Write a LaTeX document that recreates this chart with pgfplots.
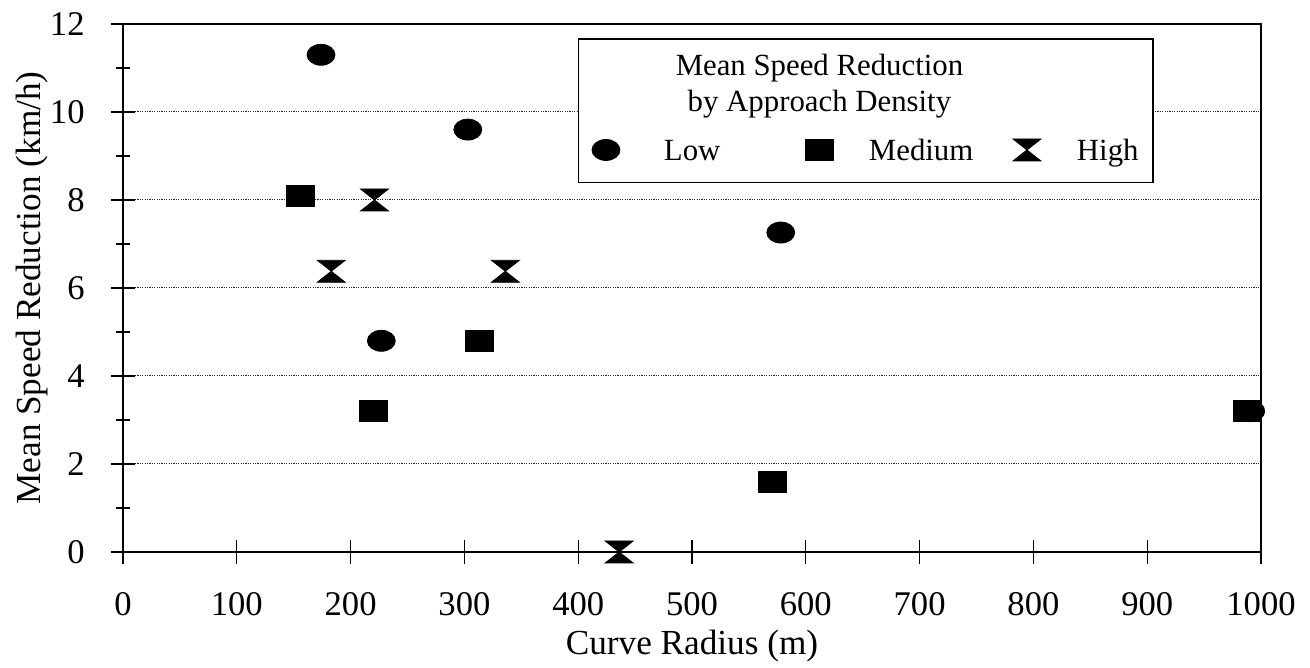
\documentclass[border=0pt]{standalone}
\usepackage{pgfplots}
\pgfplotsset{compat=1.18}
\usepackage{fontspec}
\setmainfont{Liberation Serif}
\newcommand{\tfont}{\fontsize{17.3}{20}\selectfont}
\newcommand{\lfont}{\fontsize{17.6}{20}\selectfont}
\newcommand{\gfont}{\fontsize{15.4}{18}\selectfont}
\pgfdeclareplotmark{hourglass}{%
  \pgfpathmoveto{\pgfqpoint{-\pgfplotmarksize}{\pgfplotmarksize}}%
  \pgfpathlineto{\pgfqpoint{\pgfplotmarksize}{\pgfplotmarksize}}%
  \pgfpathlineto{\pgfqpoint{-\pgfplotmarksize}{-\pgfplotmarksize}}%
  \pgfpathlineto{\pgfqpoint{\pgfplotmarksize}{-\pgfplotmarksize}}%
  \pgfpathclose
  \pgfusepathqfillstroke
}
\pgfplotstableread{
x y
174 11.3
303 9.6
227 4.8
578 7.26
991 3.2
}\lowdata
\pgfplotstableread{
x y
156 8.1
220 3.2
313 4.8
571 1.6
988 3.2
}\meddata
\pgfplotstableread{
x y
221 8.0
183 6.38
336 6.38
436 0.0
}\highdata
\pgfplotsset{
  myimg/.style={legend image code/.code={\path[draw=none,fill=none] (-7pt,0pt) -- (25pt,0pt); \draw[draw=none] plot coordinates {(0pt,0pt)};}}
}
\begin{document}
\begin{tikzpicture}
\begin{axis}[
  at={(0pt,0pt)}, anchor=south west,
  scale only axis, width=569pt, height=264pt,
  xmin=0, xmax=1000, ymin=0, ymax=12,
  xtick={0,100,200,300,400,500,600,700,800,900,1000},
  xticklabels={0,100,200,300,400,500,600,700,800,900,1000},
  ytick={0,2,4,6,8,10,12},
  yticklabels={0,2,4,6,8,10,12},
  minor y tick num=1,
  tick align=center, major tick length=12pt, minor tick length=7pt,
  xtick pos=left, ytick pos=left,
  ymajorgrids,
  grid style={black!85, line width=0.5pt, dash pattern=on 0.6pt off 0.6pt},
  axis line style={black, line width=0.7pt},
  every tick/.style={black, line width=0.6pt},
  clip=false,
  tick label style={font=\tfont},
  xticklabel style={anchor=base, yshift=-25.5pt},
  yticklabel style={anchor=east, inner sep=0pt},
  yticklabel shift=13pt,
  every axis y label/.style={at={(axis description cs:-0.0655,0.5)}, rotate=90, anchor=south, inner sep=0pt, font=\lfont},
  every axis x label/.style={at={(axis description cs:0.5,-0.195)}, anchor=base, inner sep=0pt, font=\lfont},
  xlabel={Curve Radius (m)},
  ylabel={Mean Speed Reduction (km/h)},
  legend columns=3,
  legend style={at={(axis description cs:0.4121,0.7614)}, anchor=west, draw=none, fill=none,
    inner sep=0pt, outer sep=0pt, column sep=0pt, row sep=0pt,
    nodes={inner sep=0pt, outer sep=0pt, text height=10.2pt, text depth=0pt, font=\gfont, anchor=west}},
  legend cell align=left,
]
\draw[black, line width=0.6pt, fill=white] (axis cs:400,8.39) rectangle (axis cs:905,11.66);
\node[anchor=base, font=\gfont, inner sep=0pt] at (axis cs:612,10.84) {Mean Speed Reduction};
\node[anchor=base, font=\gfont, inner sep=0pt] at (axis cs:612,10.02) {by Approach Density};
\addplot[only marks, mark=*, mark size=5.25pt, mark options={xscale=1.333, fill=black, draw=black}, myimg] table[x=x,y=y] {\lowdata};
\addlegendentry{\makebox[74.5pt][l]{\hspace{4pt}Low}}
\addplot[only marks, mark=square*, mark size=5.25pt, mark options={xscale=1.333, fill=black, draw=black}, myimg] table[x=x,y=y] {\meddata};
\addlegendentry{\makebox[72pt][l]{Medium}}
\addplot[only marks, mark=hourglass, mark size=5.5pt, mark options={xscale=1.273, fill=black, draw=black}, myimg] table[x=x,y=y] {\highdata};
\addlegendentry{High}
\end{axis}
\path[use as bounding box] (-61.5pt,-58pt) rectangle (593.5pt,276pt);
\end{tikzpicture}
\end{document}
